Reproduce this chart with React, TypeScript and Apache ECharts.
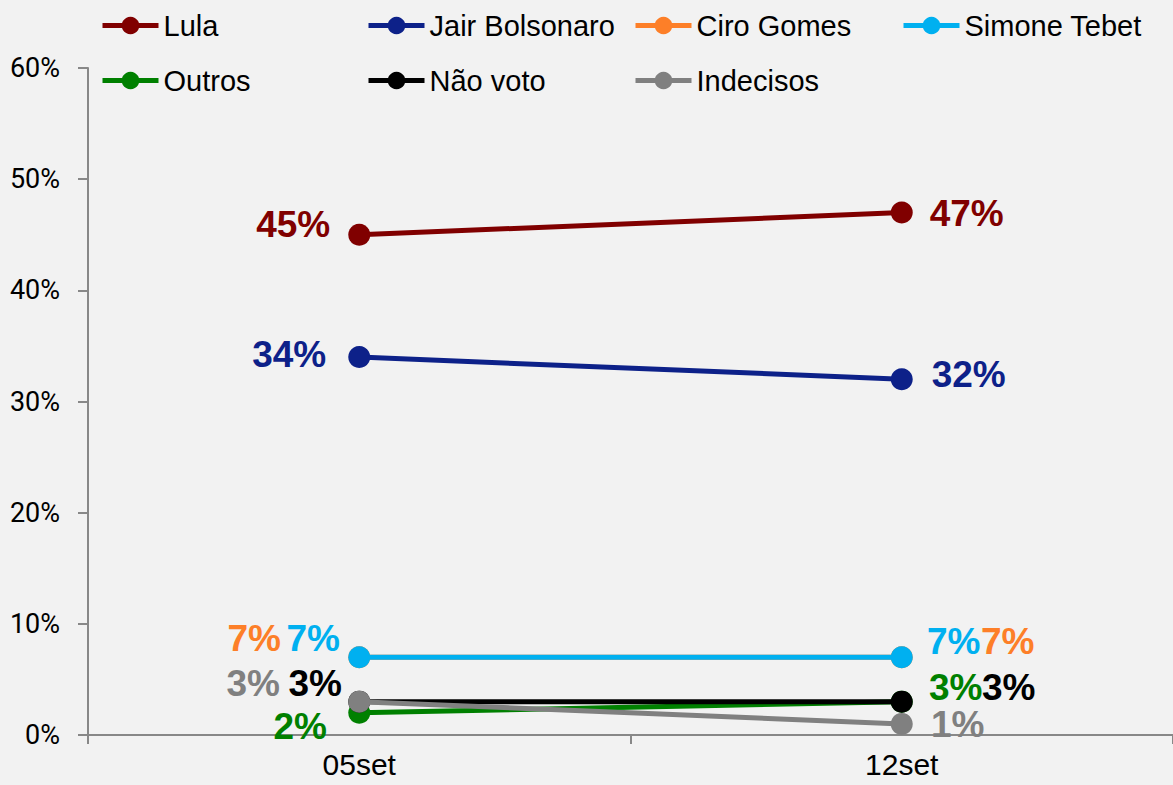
import React, { useEffect, useRef } from "react";
import * as echarts from "echarts";

const categories = ["05set", "12set"];
const seriesNames = ["Lula", "Jair Bolsonaro", "Ciro Gomes", "Simone Tebet", "Outros", "Não voto", "Indecisos"];
const lula = [45, 47];
const bolsonaro = [34, 32];
const ciro = [7, 7];
const tebet = [7, 7];
const outros = [2, 3];
const naoVoto = [3, 3];
const indecisos = [3, 1];
const yTicks = [0, 10, 20, 30, 40, 50, 60];

const seriesValues = [lula, bolsonaro, ciro, tebet, outros, naoVoto, indecisos];
const colors = ["#800000", "#0d2189", "#fd7f28", "#00b0f0", "#008000", "#000000", "#808080"];
// label offsets (dx, dy) relative to the marker, for each series and category
const labelOffsets: number[][][] = [
  [[-66, -10], [65, 1]],
  [[-70, -3], [67, -5]],
  [[-105, -19], [106, -16]],
  [[-46, -19], [52, -16]],
  [[-59, 14], [54, -14]],
  [[-44, -18], [107, -14]],
  [[-106, -18], [56, 1]],
];
const legendPos = [
  [100, 11], [366, 11], [633, 11], [901, 11],
  [100, 66], [366, 66], [633, 66],
];

export default function App() {
  const ref = useRef<HTMLDivElement>(null);
  useEffect(() => {
    if (!ref.current) return;
    const chart = echarts.init(ref.current, undefined, { renderer: "svg" });
    const series = seriesNames.map((name, i) => ({
      name,
      type: "line",
      data: seriesValues[i].map((v, j) => ({
        value: v,
        label: {
          show: true,
          position: "inside",
          offset: labelOffsets[i][j],
        },
      })),
      color: colors[i],
      lineStyle: { width: 5, color: colors[i] },
      itemStyle: { color: colors[i] },
      symbol: "circle",
      symbolSize: 22,
      label: {
        show: true,
        formatter: "{c}%",
        color: colors[i],
        fontFamily: "Liberation Sans",
        fontWeight: "bold",
        fontSize: 37,
        align: "center",
        verticalAlign: "middle",
      },
      z: 2 + i,
    }));
    const legends = seriesNames.map((name, i) => ({
      data: [name],
      left: legendPos[i][0],
      top: legendPos[i][1],
      padding: 0,
      itemWidth: 56,
      itemHeight: 22,
      lineStyle: { width: 5 },
      textStyle: { fontSize: 29, fontFamily: "Liberation Sans", color: "#000" },
    }));
    chart.setOption({
      animation: false,
      backgroundColor: "#f2f2f2",
      legend: legends,
      grid: { left: 88, right: 0, top: 68, bottom: 50, containLabel: false },
      xAxis: {
        type: "category",
        data: categories,
        boundaryGap: true,
        axisLine: { show: true, lineStyle: { color: "#888888", width: 2 } },
        axisTick: { show: true, length: 9, lineStyle: { color: "#888888", width: 2 } },
        axisLabel: { fontSize: 30, fontFamily: "Liberation Sans", color: "#000", margin: 14 },
      },
      yAxis: {
        type: "value",
        min: yTicks[0],
        max: yTicks[yTicks.length - 1],
        interval: 10,
        splitLine: { show: false },
        axisLine: { show: true, lineStyle: { color: "#888888", width: 2 } },
        axisTick: { show: true, length: 10, lineStyle: { color: "#888888", width: 2 } },
        axisLabel: {
          formatter: "{value}%",
          fontSize: 27,
          fontFamily: "Roboto",
          color: "#000",
          margin: 28,
        },
      },
      series,
    });
    return () => chart.dispose();
  }, []);
  return (
    <div
      ref={ref}
      style={{ position: "absolute", left: 0, top: 0, width: 1173, height: 785 }}
    />
  );
}
